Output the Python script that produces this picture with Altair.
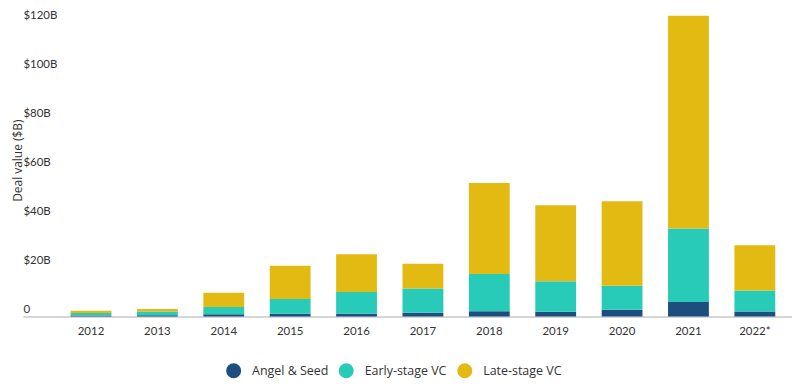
import altair as alt
import pandas as pd

years = ["2012", "2013", "2014", "2015", "2016", "2017", "2018", "2019", "2020", "2021", "2022*"]
angel_seed = [0.4, 0.5, 0.9, 1.1, 1.1, 1.5, 2.2, 2.0, 2.8, 5.9, 2.1]
early_vc = [1.0, 1.6, 3.0, 6.1, 8.9, 9.9, 15.1, 12.4, 9.8, 30.0, 8.5]
late_vc = [1.0, 1.0, 5.8, 13.5, 15.4, 10.1, 37.2, 31.0, 34.4, 86.8, 18.5]
series = ["Angel & Seed", "Early-stage VC", "Late-stage VC"]
colors = ["#1c4e80", "#28cab8", "#e2ba12"]
y_ticks = [0, 20, 40, 60, 80, 100, 120]

rows = []
for i, y in enumerate(years):
    for k, (name, vals) in enumerate(zip(series, [angel_seed, early_vc, late_vc])):
        rows.append({"year": y, "stage": name, "value": vals[i], "ord": k})
df = pd.DataFrame(rows)

chart = alt.Chart(df).mark_bar().encode(
    x=alt.X("year:N", sort=years,
            scale=alt.Scale(paddingInner=0.385, paddingOuter=0.485, align=0.74),
            axis=alt.Axis(title=None, labelAngle=0, ticks=False, domainColor="#d6d6d6",
                          domainWidth=2, labelFont="Lato", labelFontSize=11.5,
                          labelColor="#333333", labelPadding=9)),
    y=alt.Y("value:Q", stack="zero",
            scale=alt.Scale(domain=[0, 123.5], nice=False, zero=True),
            axis=alt.Axis(title="Deal value ($B)", values=y_ticks, grid=False, ticks=False,
                          domain=False, labelAlign="left", labelPadding=0, labelOffset=-7,
                          labelFont="Lato", labelFontSize=11.5, labelColor="#333333",
                          labelExpr="datum.value == 0 ? '0' : '$' + datum.value + 'B'",
                          titleFont="Open Sans", titleFontSize=12, titleFontWeight="normal",
                          titleColor="#333333", titleX=-5, titleY=147, titleAngle=270,
                          titleBaseline="middle", titleAlign="center")),
    color=alt.Color("stage:N", scale=alt.Scale(domain=series, range=colors),
                    legend=alt.Legend(title=None, orient="none", direction="horizontal",
                                      legendX=204, legendY=351, symbolType="circle",
                                      symbolSize=225, symbolOpacity=1, symbolStrokeWidth=0,
                                      labelFont="Open Sans", labelFontSize=12.5,
                                      labelColor="#333333", labelOffset=11,
                                      columnPadding=10)),
    order=alt.Order("ord:Q", sort="ascending"),
).properties(
    width=772, height=304,
    autosize=alt.AutoSizeParams(type="none"),
    padding={"left": 15, "top": 5, "right": 0, "bottom": 70},
).configure_view(stroke=None)

chart.save("out.html", embed_options={"renderer": "svg", "actions": False})
